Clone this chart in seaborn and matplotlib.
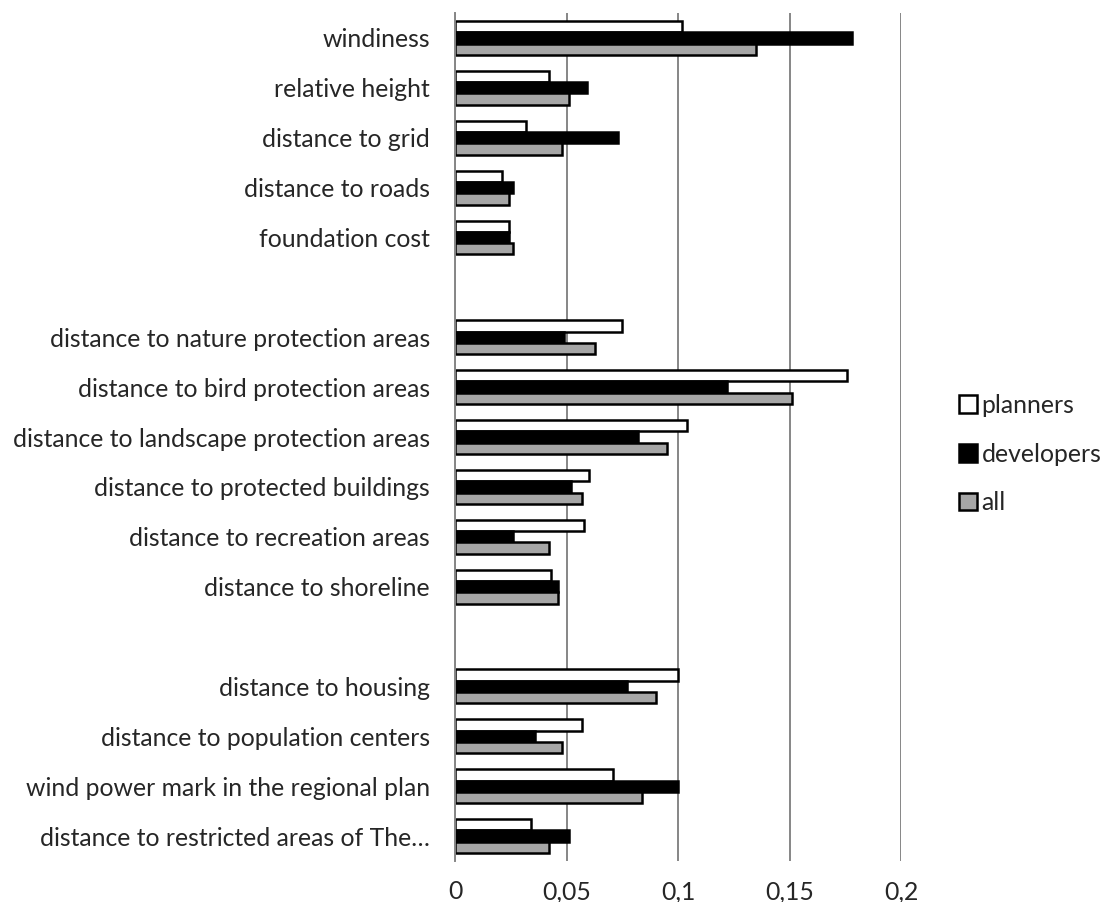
import matplotlib
matplotlib.use("Agg")
import matplotlib.pyplot as plt
import seaborn as sns
import pandas as pd
from matplotlib.patches import Patch

# Criteria (two blank rows separate the three groups)
categories = [
    "windiness", "relative height", "distance to grid", "distance to roads",
    "foundation cost", " ",
    "distance to nature protection areas", "distance to bird protection areas",
    "distance to landscape protection areas", "distance to protected buildings",
    "distance to recreation areas", "distance to shoreline", "  ",
    "distance to housing", "distance to population centers",
    "wind power mark in the regional plan", "distance to restricted areas of The…",
]
criteria = [c for c in categories if c.strip()]

planners = [0.102, 0.042, 0.032, 0.021, 0.024,
            0.075, 0.176, 0.104, 0.060, 0.058, 0.043,
            0.100, 0.057, 0.071, 0.034]
developers = [0.178, 0.059, 0.073, 0.026, 0.024,
              0.049, 0.122, 0.082, 0.052, 0.026, 0.046,
              0.077, 0.036, 0.100, 0.051]
all_resp = [0.135, 0.051, 0.048, 0.024, 0.026,
            0.063, 0.151, 0.095, 0.057, 0.042, 0.046,
            0.090, 0.048, 0.084, 0.042]

groups = ["planners", "developers", "all"]
colors = {"planners": "#ffffff", "developers": "#000000", "all": "#a6a6a6"}
xticks = [0, 0.05, 0.1, 0.15, 0.2]
xticklabels = ["0", "0,05", "0,1", "0,15", "0,2"]

df = pd.DataFrame({
    "criterion": criteria * 3,
    "group": ["planners"] * 15 + ["developers"] * 15 + ["all"] * 15,
    "weight": planners + developers + all_resp,
})

sns.set_style("white")
plt.rcParams["font.family"] = ["Lato", "DejaVu Sans"]

fig = plt.figure(figsize=(11.14, 9.02), dpi=100)
ax = fig.add_axes([455 / 1114, 1 - 861 / 902, 446 / 1114, 848 / 902])

sns.barplot(data=df, x="weight", y="criterion", hue="group", order=categories,
            hue_order=groups, palette=colors, orient="h", width=0.68,
            edgecolor="black", linewidth=1.8, saturation=1, ax=ax,
            legend=False, errorbar=None)

ax.set_xlim(0, 0.2)
ax.set_xticks(xticks)
ax.set_xticklabels(xticklabels, fontsize=17.8)
ax.tick_params(axis="y", labelsize=17.8, length=0, pad=18)
ax.tick_params(axis="x", length=0, pad=14)
ax.set_xlabel("")
ax.set_ylabel("")
ax.xaxis.grid(True, color="#868686", linewidth=1.4)
ax.set_axisbelow(True)
for side in ["top", "right", "bottom"]:
    ax.spines[side].set_visible(False)
ax.spines["left"].set_color("#868686")
ax.spines["left"].set_linewidth(1.4)

handles = [Patch(facecolor=colors[g], edgecolor="black", linewidth=1.8, label=g)
           for g in groups]
fig.legend(handles=handles, loc="center left", bbox_to_anchor=(947 / 1114, 1 - 454 / 902),
           frameon=False, fontsize=17.8, handlelength=0.7, handleheight=0.7,
           handletextpad=0.2, labelspacing=1.05, borderpad=0)

fig.savefig("out.png", dpi=100)
